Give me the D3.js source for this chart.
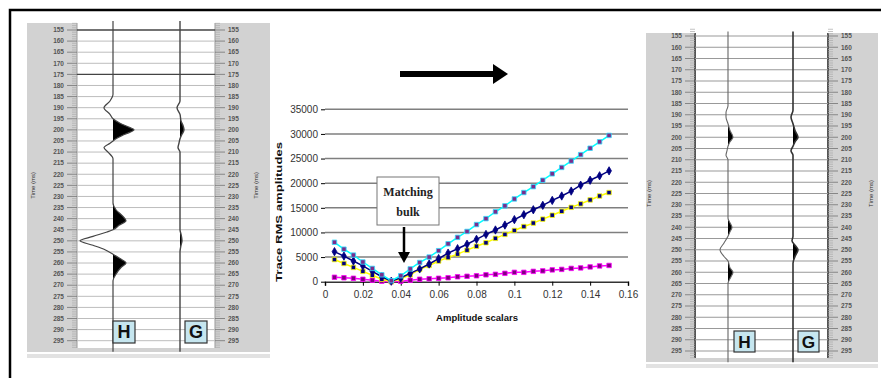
<!DOCTYPE html>
<html>
<head>
<meta charset="utf-8">
<script src="https://cdn.jsdelivr.net/npm/d3@7"></script>
<style>
  body { margin: 0; background: #fff; }
  svg { display: block; }
</style>
</head>
<body>
<script>
// time ticks on the trace panels (ms)
const timeTicks = [155, 160, 165, 170, 175, 180, 185, 190, 195, 200, 205, 210, 215, 220, 225,
  230, 235, 240, 245, 250, 255, 260, 265, 270, 275, 280, 285, 290, 295];

// wiggle traces: [time ms, amplitude]
const leftH = [[151, 0], [184, 0], [187, -3], [190, -9], [193, -3], [195, 0], [197, 7], [199, 17], [200, 21],
  [202, 12], [204, 3], [205, 0], [206, -3], [208, -9], [210, -5], [213, 0], [233, 0], [236, 3], [239, 10],
  [241, 13], [243, 6], [245, 0], [246, -6], [248, -20], [250, -33], [252, -20], [254, -8], [256, 0],
  [258, 7], [260, 13], [262, 8], [265, 3], [268, 0], [300, 0]];
const leftG = [[151, 0], [187, 0], [190, -3], [193, 0], [196, 1], [198, 3], [200, 4], [202, 2], [204, 0],
  [206, -1], [208, -2], [210, 0], [245, 0], [247, 1], [250, 2], [252, 1], [255, 0], [300, 0]];
const rightH = [[153, 0], [186, 0], [189, -2], [191, -2], [194, 0], [197, 2], [200, 5], [202, 2], [204, 0],
  [206, -1], [208, -2], [210, 0], [236, 0], [238, 2], [240, 4], [242, 2], [244, 0], [247, -4], [250, -8],
  [253, -4], [255, 0], [258, 2], [260, 5], [262, 3], [265, 0], [300, 0]];
const rightG = [[153, 0], [188, 0], [191, -2], [194, 0], [197, 2], [200, 5], [202, 2], [204, 0], [206, -2],
  [208, 0], [244, 0], [246, -1], [248, 2], [250, 5], [253, 2], [256, 0], [300, 0]];

// middle chart
const scalars = [0.005, 0.01, 0.015, 0.02, 0.025, 0.03, 0.035, 0.04, 0.045, 0.05, 0.055, 0.06, 0.065, 0.07,
  0.075, 0.08, 0.085, 0.09, 0.095, 0.1, 0.105, 0.11, 0.115, 0.12, 0.125, 0.13, 0.135, 0.14, 0.145, 0.15];
const cyanRms = [8000, 6600, 5400, 4000, 2700, 1400, 200, 1200, 2600, 3900, 5000, 6300, 7700, 9000, 10200,
  11600, 12800, 14200, 15400, 16800, 18100, 19300, 20600, 21900, 23200, 24500, 25800, 27100, 28400, 29700];
const navyRms = [6100, 5200, 4200, 3200, 2100, 1000, 100, 800, 1700, 2600, 3600, 4700, 5800, 6700, 7600,
  8600, 9600, 10500, 11500, 12600, 13600, 14600, 15500, 16500, 17400, 18400, 19600, 20600, 21500, 22500];
const yellowRms = [4500, 3700, 2900, 2100, 1300, 500, 0, 600, 1400, 2500, 3300, 4200, 4900, 5600, 6400,
  7200, 7900, 8800, 9600, 10400, 11200, 11900, 12700, 13500, 14300, 15100, 15800, 16600, 17400, 18100];
const magentaRms = [900, 800, 700, 500, 300, 100, 0, 100, 300, 500, 600, 700, 800, 1000, 1100,
  1200, 1400, 1500, 1700, 1900, 1900, 2100, 2200, 2400, 2500, 2700, 2800, 3000, 3200, 3300];
const xTicks = [0, 0.02, 0.04, 0.06, 0.08, 0.1, 0.12, 0.14, 0.16];
const yTicks = [0, 5000, 10000, 15000, 20000, 25000, 30000, 35000];

const width = 881, height = 378;
const svg = d3.select("body").append("svg")
  .attr("width", width)
  .attr("height", height);

// outer frame (only top and left edges are in view)
svg.append("path")
  .attr("d", `M10,${height} L10,10 L${width},10`)
  .attr("fill", "none")
  .attr("stroke", "#000")
  .attr("stroke-width", 2.5);

let clipId = 0;

function drawPanel(p) {
  const g = svg.append("g");
  const t = d3.scaleLinear().domain([155, 295]).range([p.y155, p.y295]);
  const amp = d3.scaleLinear().domain([-40, 40]).range([-40, 40]);

  // grey background + bottom strip
  g.append("rect")
    .attr("x", p.bx0).attr("y", p.by0)
    .attr("width", p.bx1 - p.bx0).attr("height", p.by1 - p.by0)
    .attr("fill", "#d2d2d2");
  g.append("rect")
    .attr("x", p.bx0).attr("y", p.by1 + 2)
    .attr("width", p.bx1 - p.bx0).attr("height", 4)
    .attr("fill", "#e2e2e2");

  // white trace area
  g.append("rect")
    .attr("x", p.wx0).attr("y", p.by0)
    .attr("width", p.wx1 - p.wx0).attr("height", p.by1 - p.by0 - 4)
    .attr("fill", "#fff");

  // rulers
  const minor = d3.range(152, 299);
  [[p.wx0, -1], [p.wx1, 1]].forEach(([rx, dir]) => {
    g.append("line")
      .attr("x1", rx).attr("x2", rx)
      .attr("y1", p.by0).attr("y2", p.by1 - 4)
      .attr("stroke", p.edge).attr("stroke-width", p.edgeW);
    g.selectAll(null)
      .data(minor)
      .join("line")
      .attr("x1", rx).attr("x2", d => rx + dir * (d % 5 === 0 ? 10 : 5))
      .attr("y1", d => t(d)).attr("y2", d => t(d))
      .attr("stroke", d => d % 5 === 0 ? "#666" : "#aaa")
      .attr("stroke-width", 0.7);
    g.selectAll(null)
      .data(timeTicks)
      .join("text")
      .attr("x", rx + dir * 13)
      .attr("y", d => t(d))
      .attr("dy", "0.35em")
      .attr("text-anchor", dir < 0 ? "end" : "start")
      .attr("font-family", "Liberation Sans, Arial, sans-serif")
      .attr("font-size", 6.5)
      .attr("font-weight", "bold")
      .attr("fill", "#555")
      .text(d => d);
  });

  // horizontal time lines
  g.selectAll(null)
    .data(timeTicks)
    .join("line")
    .attr("x1", p.wx0).attr("x2", p.wx1)
    .attr("y1", d => t(d)).attr("y2", d => t(d))
    .attr("stroke", d => p.dark.includes(d) ? "#444" : p.grid)
    .attr("stroke-width", d => p.dark.includes(d) ? 1.3 : 1);

  // time labels
  p.timeLabelX.forEach(lx => {
    g.append("text")
      .attr("transform", `translate(${lx},${(p.y155 + p.y295) / 2}) rotate(-90)`)
      .attr("text-anchor", "middle")
      .attr("font-family", "Liberation Sans, Arial, sans-serif")
      .attr("font-size", 6)
      .attr("fill", "#333")
      .text("Time (ms)");
  });

  // wiggle traces
  p.traces.forEach(tr => {
    const line = d3.line()
      .x(d => tr.x + amp(d[1]))
      .y(d => t(d[0]))
      .curve(d3.curveMonotoneY);
    const area = d3.area()
      .x0(tr.x)
      .x1(d => tr.x + amp(d[1]))
      .y(d => t(d[0]))
      .curve(d3.curveMonotoneY);
    const id = "clip" + (clipId++);
    g.append("clipPath").attr("id", id)
      .append("rect")
      .attr("x", tr.x).attr("y", 0)
      .attr("width", 60).attr("height", height);
    g.append("path")
      .datum(tr.data)
      .attr("d", area)
      .attr("clip-path", `url(#${id})`)
      .attr("fill", "#000");
    g.append("path")
      .datum(tr.data)
      .attr("d", line)
      .attr("fill", "none")
      .attr("stroke", tr.color)
      .attr("stroke-width", tr.w);
  });

  // H / G boxes
  p.boxes.forEach(b => {
    g.append("rect")
      .attr("x", b.x).attr("y", p.boxY)
      .attr("width", p.boxW).attr("height", p.boxW)
      .attr("fill", "#c6e6ef")
      .attr("stroke", "#333")
      .attr("stroke-width", 1.2);
    g.append("text")
      .attr("x", b.x + p.boxW / 2).attr("y", p.boxY + p.boxW / 2)
      .attr("dy", "0.36em")
      .attr("text-anchor", "middle")
      .attr("font-family", "Liberation Sans, Arial, sans-serif")
      .attr("font-weight", "bold")
      .attr("font-size", p.boxW * 0.82)
      .attr("fill", "#111")
      .text(b.label);
  });
}

drawPanel({
  bx0: 27, bx1: 270, by0: 23, by1: 352,
  wx0: 77, wx1: 215, y155: 30, y295: 340.7,
  edge: "#999", edgeW: 1, grid: "#bdbdbd", dark: [155, 175],
  timeLabelX: [35, 258],
  traces: [
    { x: 113, data: leftH, color: "#444", w: 1.2 },
    { x: 180, data: leftG, color: "#444", w: 1.4 }
  ],
  boxY: 321, boxW: 22,
  boxes: [{ x: 113, label: "H" }, { x: 185, label: "G" }]
});

drawPanel({
  bx0: 646, bx1: 878, by0: 33, by1: 362,
  wx0: 695, wx1: 828, y155: 36, y295: 351,
  edge: "#555", edgeW: 2, grid: "#999", dark: [],
  timeLabelX: [651, 873],
  traces: [
    { x: 728, data: rightH, color: "#666", w: 1.1 },
    { x: 793, data: rightG, color: "#333", w: 1.6 }
  ],
  boxY: 331, boxW: 21,
  boxes: [{ x: 734, label: "H" }, { x: 798, label: "G" }]
});

// big arrow on top
const arrow = svg.append("g");
arrow.append("line")
  .attr("x1", 400).attr("x2", 496)
  .attr("y1", 74).attr("y2", 74)
  .attr("stroke", "#000").attr("stroke-width", 6);
arrow.append("path")
  .attr("d", "M493,64 L508,74 L493,84 Z")
  .attr("fill", "#000");

// middle chart
const x = d3.scaleLinear().domain([0, 0.16]).range([325, 628]);
const y = d3.scaleLinear().domain([0, 35000]).range([281.7, 109.3]);
const font = "Liberation Sans, Arial, sans-serif";

const chart = svg.append("g");

chart.append("g")
  .selectAll("line")
  .data(yTicks.slice(1))
  .join("line")
  .attr("x1", x(0)).attr("x2", x(0.16))
  .attr("y1", d => y(d)).attr("y2", d => y(d))
  .attr("stroke", "#7f7f7f")
  .attr("stroke-width", 1.5);

const xAxis = chart.append("g")
  .attr("transform", `translate(0,${y(0)})`)
  .call(d3.axisBottom(x).tickValues(xTicks).tickSize(4).tickPadding(5).tickFormat(d => String(d)));
xAxis.select(".domain").attr("stroke", "#333").attr("stroke-width", 1.5);
xAxis.selectAll("text").attr("font-family", font).attr("font-size", 10).attr("fill", "#333");

const yAxis = chart.append("g")
  .attr("transform", `translate(${x(0)},0)`)
  .call(d3.axisLeft(y).tickValues(yTicks).tickSize(4).tickPadding(3).tickFormat(d => String(d)));
yAxis.select(".domain").remove();
yAxis.selectAll("text").attr("font-family", font).attr("font-size", 10).attr("fill", "#333");

chart.append("text")
  .attr("x", 477).attr("y", 321)
  .attr("text-anchor", "middle")
  .attr("font-family", font)
  .attr("font-weight", "bold")
  .attr("font-size", 9.5)
  .attr("fill", "#111")
  .text("Amplitude scalars");

chart.append("text")
  .attr("transform", "translate(282,212) rotate(-90)")
  .attr("text-anchor", "middle")
  .attr("font-family", font)
  .attr("font-weight", "bold")
  .attr("font-size", 9.5)
  .attr("textLength", 140)
  .attr("lengthAdjust", "spacingAndGlyphs")
  .attr("fill", "#111")
  .text("Trace RMS amplitudes");

const series = [
  { values: magentaRms, line: "#ff00ff", fill: "#800080", stroke: "#ff00ff", shape: "square" },
  { values: yellowRms, line: "#ffff00", fill: "#000080", stroke: "#ffff00", shape: "square" },
  { values: navyRms, line: "#000080", fill: "#000080", stroke: "#000080", shape: "diamond" },
  { values: cyanRms, line: "#00ffff", fill: "#7a2c8c", stroke: "#33ddff", shape: "square" }
];

series.forEach(s => {
  const pts = s.values.map((v, i) => [scalars[i], v]);
  chart.append("path")
    .datum(pts)
    .attr("d", d3.line().x(d => x(d[0])).y(d => y(d[1])))
    .attr("fill", "none")
    .attr("stroke", s.line)
    .attr("stroke-width", 1.5);
  const sym = d3.symbol().type(s.shape === "diamond" ? d3.symbolDiamond : d3.symbolSquare)
    .size(20);
  chart.append("g")
    .selectAll("path")
    .data(pts)
    .join("path")
    .attr("transform", d => `translate(${x(d[0])},${y(d[1])})`)
    .attr("d", sym)
    .attr("fill", s.fill)
    .attr("stroke", s.stroke)
    .attr("stroke-width", 0.8);
});

// "Matching bulk" callout
const callout = svg.append("g");
callout.append("rect")
  .attr("x", 377).attr("y", 177)
  .attr("width", 62).attr("height", 48)
  .attr("fill", "#fff")
  .attr("stroke", "#777")
  .attr("stroke-width", 1);
callout.selectAll("text")
  .data(["Matching", "bulk"])
  .join("text")
  .attr("x", 408)
  .attr("y", (d, i) => 196 + i * 20)
  .attr("text-anchor", "middle")
  .attr("font-family", "Liberation Serif, Times New Roman, serif")
  .attr("font-weight", "bold")
  .attr("font-size", 12)
  .attr("fill", "#222")
  .text(d => d);
callout.append("line")
  .attr("x1", 404).attr("x2", 404)
  .attr("y1", 227).attr("y2", 254)
  .attr("stroke", "#000").attr("stroke-width", 2.5);
callout.append("path")
  .attr("d", "M398,252 L410,252 L404,263 Z")
  .attr("fill", "#000");
</script>
</body>
</html>
